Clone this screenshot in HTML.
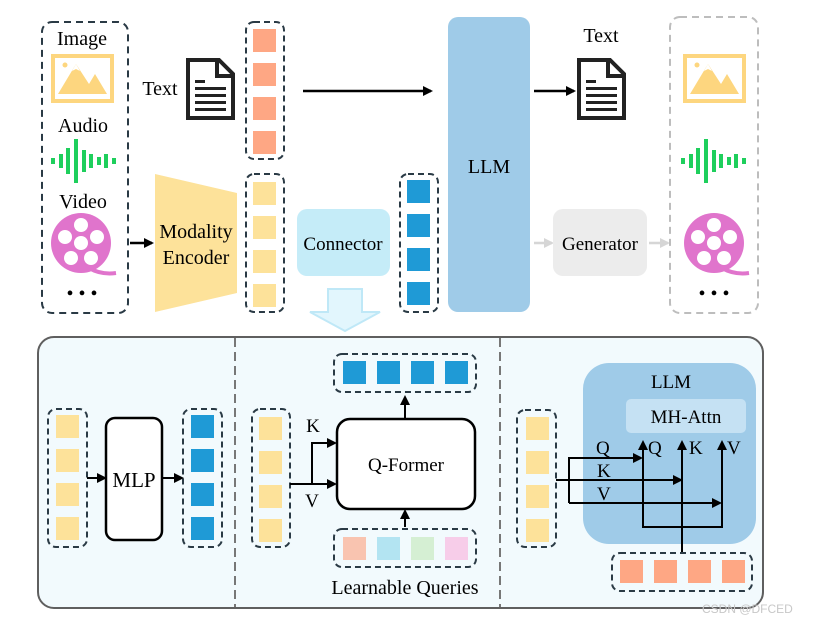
<!DOCTYPE html>
<html><head><meta charset="utf-8"><style>
html,body{margin:0;padding:0;background:#fff}
svg{display:block;font-family:"Liberation Serif",serif}
</style></head><body>
<svg width="814" height="625" viewBox="0 0 814 625" xmlns="http://www.w3.org/2000/svg">
<defs>
<marker id="ah" markerWidth="10" markerHeight="10" refX="8" refY="5" orient="auto" markerUnits="userSpaceOnUse"><path d="M0,0 L10,5 L0,10 z" fill="#000"/></marker>
<marker id="ahg" markerWidth="10" markerHeight="10" refX="8" refY="5" orient="auto" markerUnits="userSpaceOnUse"><path d="M0,0 L10,5 L0,10 z" fill="#d6d6d6"/></marker>
<g id="img">
<rect x="2" y="2" width="59" height="45" fill="#fff" stroke="#fdd67f" stroke-width="4"/>
<polygon points="7,40 25,10 38,30 44,20 56,40" fill="#fdd67f"/>
<polygon points="21,17 25,10 29,17 25,15" fill="#fff"/>
<circle cx="14" cy="11" r="2.5" fill="#fdd67f"/>
</g>
<g id="wave" fill="#1ecf5c">
<rect x="0" y="19" width="4" height="6"/><rect x="8" y="15" width="4" height="14"/><rect x="15" y="9" width="4" height="26"/><rect x="23" y="0" width="4" height="44"/><rect x="31" y="11" width="4" height="22"/><rect x="38" y="15" width="4" height="14"/><rect x="46" y="18" width="4" height="8"/><rect x="53" y="15" width="4" height="14"/><rect x="61" y="19" width="4" height="6"/>
</g>
<g id="reel">
<circle cx="30" cy="30" r="30" fill="#e074cc"/>
<circle cx="30" cy="12" r="7" fill="#fff"/><circle cx="14" cy="24" r="7" fill="#fff"/><circle cx="46" cy="24" r="7" fill="#fff"/><circle cx="30" cy="30" r="7" fill="#fff"/><circle cx="20" cy="45" r="7" fill="#fff"/><circle cx="40" cy="45" r="7" fill="#fff"/>
<path d="M38,55 Q50,62 65,60" stroke="#e074cc" stroke-width="4" fill="none"/>
</g>
<g id="doc">
<path d="M2,2 L33,2 L47,16 L47,60 L2,60 Z" fill="#fff" stroke="#222" stroke-width="4"/>
<path d="M31,2 L31,18 L47,18" fill="none" stroke="#222" stroke-width="4"/>
<rect x="9" y="22" width="10" height="3" fill="#222"/>
<rect x="9" y="29" width="31" height="3" fill="#222"/><rect x="9" y="36" width="31" height="3" fill="#222"/><rect x="9" y="43" width="31" height="3" fill="#222"/><rect x="9" y="50" width="31" height="3" fill="#222"/>
</g>
</defs>

<rect x="42" y="22" width="86" height="291" rx="10" fill="none" stroke="#2a3a45" stroke-width="2" stroke-dasharray="7,5"/>
<text x="82" y="45" font-size="20" text-anchor="middle">Image</text>
<use href="#img" x="51" y="54"/>
<text x="83" y="132" font-size="20" text-anchor="middle">Audio</text>
<use href="#wave" x="51" y="139"/>
<text x="83" y="208" font-size="20" text-anchor="middle">Video</text>
<use href="#reel" x="51" y="213"/>
<text x="82" y="300" font-size="20" text-anchor="middle">• • •</text>
<line x1="130" y1="243" x2="152" y2="243" stroke="#000" stroke-width="2.5" marker-end="url(#ah)"/>

<polygon points="155,174 237,193 237,293 155,312" fill="#fde29a"/>
<text x="196" y="238" font-size="20" text-anchor="middle">Modality</text>
<text x="196" y="264" font-size="20" text-anchor="middle">Encoder</text>

<text x="160" y="95" font-size="20" text-anchor="middle">Text</text>
<use href="#doc" x="186" y="58"/>

<rect x="246" y="22" width="38" height="137" rx="8" fill="none" stroke="#2a3a45" stroke-width="2" stroke-dasharray="6,4"/>
<g fill="#fea784"><rect x="253" y="29" width="23" height="23"/><rect x="253" y="63" width="23" height="23"/><rect x="253" y="97" width="23" height="23"/><rect x="253" y="131" width="23" height="23"/></g>
<rect x="246" y="174" width="38" height="138" rx="8" fill="none" stroke="#2a3a45" stroke-width="2" stroke-dasharray="6,4"/>
<g fill="#fde29a"><rect x="253" y="182" width="23" height="23"/><rect x="253" y="216" width="23" height="23"/><rect x="253" y="250" width="23" height="23"/><rect x="253" y="284" width="23" height="23"/></g>

<rect x="297" y="209" width="93" height="67" rx="10" fill="#c5ecf8"/>
<text x="343" y="250" font-size="19" text-anchor="middle">Connector</text>
<polygon points="328,289 362,289 362,312 380,312 345,331 310,312 328,312" fill="#e2f6fd" stroke="#bfe8f7" stroke-width="2"/>

<rect x="400" y="174" width="38" height="138" rx="8" fill="none" stroke="#2a3a45" stroke-width="2" stroke-dasharray="6,4"/>
<g fill="#1f9ad6"><rect x="407" y="180" width="23" height="23"/><rect x="407" y="214" width="23" height="23"/><rect x="407" y="248" width="23" height="23"/><rect x="407" y="282" width="23" height="23"/></g>

<line x1="303" y1="91" x2="431" y2="91" stroke="#000" stroke-width="2.5" marker-end="url(#ah)"/>
<rect x="448" y="17" width="82" height="295" rx="10" fill="#9fcbe8"/>
<text x="489" y="173" font-size="20" text-anchor="middle">LLM</text>

<line x1="534" y1="91" x2="574" y2="91" stroke="#000" stroke-width="2.5" marker-end="url(#ah)"/>
<text x="601" y="42" font-size="20" text-anchor="middle">Text</text>
<use href="#doc" x="577" y="58"/>

<line x1="534" y1="243" x2="552" y2="243" stroke="#d6d6d6" stroke-width="2.5" marker-end="url(#ahg)"/>
<rect x="553" y="209" width="94" height="67" rx="10" fill="#ececec"/>
<text x="600" y="250" font-size="19" text-anchor="middle">Generator</text>
<line x1="649" y1="243" x2="668" y2="243" stroke="#d6d6d6" stroke-width="2.5" marker-end="url(#ahg)"/>

<rect x="670" y="17" width="88" height="296" rx="10" fill="none" stroke="#bdbdbd" stroke-width="2" stroke-dasharray="7,5"/>
<use href="#img" x="683" y="54"/>
<use href="#wave" x="681" y="139"/>
<use href="#reel" x="684" y="213"/>
<text x="714" y="300" font-size="20" text-anchor="middle">• • •</text>

<rect x="38" y="337" width="725" height="271" rx="16" fill="#f2fafd" stroke="#5f5f5f" stroke-width="2"/>
<line x1="235" y1="338" x2="235" y2="607" stroke="#777" stroke-width="2" stroke-dasharray="9,5"/>
<line x1="500" y1="338" x2="500" y2="607" stroke="#777" stroke-width="2" stroke-dasharray="9,5"/>

<rect x="48" y="409" width="39" height="138" rx="8" fill="none" stroke="#2a3a45" stroke-width="2" stroke-dasharray="6,4"/>
<g fill="#fde29a"><rect x="56" y="415" width="23" height="23"/><rect x="56" y="449" width="23" height="23"/><rect x="56" y="483" width="23" height="23"/><rect x="56" y="517" width="23" height="23"/></g>
<line x1="87" y1="478" x2="105" y2="478" stroke="#000" stroke-width="2" marker-end="url(#ah)"/>
<rect x="106" y="418" width="56" height="122" rx="9" fill="#fff" stroke="#000" stroke-width="2.5"/>
<text x="134" y="487" font-size="21" text-anchor="middle">MLP</text>
<line x1="162" y1="478" x2="182" y2="478" stroke="#000" stroke-width="2" marker-end="url(#ah)"/>
<rect x="183" y="409" width="39" height="138" rx="8" fill="none" stroke="#2a3a45" stroke-width="2" stroke-dasharray="6,4"/>
<g fill="#1f9ad6"><rect x="191" y="415" width="23" height="23"/><rect x="191" y="449" width="23" height="23"/><rect x="191" y="483" width="23" height="23"/><rect x="191" y="517" width="23" height="23"/></g>

<rect x="252" y="409" width="38" height="138" rx="8" fill="none" stroke="#2a3a45" stroke-width="2" stroke-dasharray="6,4"/>
<g fill="#fde29a"><rect x="259" y="417" width="23" height="23"/><rect x="259" y="451" width="23" height="23"/><rect x="259" y="485" width="23" height="23"/><rect x="259" y="519" width="23" height="23"/></g>
<polyline points="290,484 335,484" fill="none" stroke="#000" stroke-width="2" marker-end="url(#ah)"/>
<polyline points="312,484 312,443 335,443" fill="none" stroke="#000" stroke-width="2" marker-end="url(#ah)"/>
<text x="313" y="432" font-size="19" text-anchor="middle">K</text>
<text x="312" y="507" font-size="19" text-anchor="middle">V</text>
<rect x="337" y="419" width="138" height="90" rx="13" fill="#fff" stroke="#000" stroke-width="2.5"/>
<text x="406" y="471" font-size="19" text-anchor="middle">Q-Former</text>
<rect x="334" y="354" width="142" height="38" rx="8" fill="none" stroke="#2a3a45" stroke-width="2" stroke-dasharray="6,4"/>
<g fill="#1f9ad6"><rect x="343" y="361" width="23" height="23"/><rect x="377" y="361" width="23" height="23"/><rect x="411" y="361" width="23" height="23"/><rect x="445" y="361" width="23" height="23"/></g>
<line x1="405" y1="418" x2="405" y2="397" stroke="#000" stroke-width="2" marker-end="url(#ah)"/>
<line x1="405" y1="527" x2="405" y2="511" stroke="#000" stroke-width="2" marker-end="url(#ah)"/>
<rect x="334" y="529" width="142" height="38" rx="8" fill="none" stroke="#2a3a45" stroke-width="2" stroke-dasharray="6,4"/>
<rect x="343" y="537" width="23" height="23" fill="#f9c4b0"/><rect x="377" y="537" width="23" height="23" fill="#b3e4f2"/><rect x="411" y="537" width="23" height="23" fill="#d5efd3"/><rect x="445" y="537" width="23" height="23" fill="#f7cde9"/>
<text x="405" y="594" font-size="20" text-anchor="middle">Learnable Queries</text>

<rect x="583" y="363" width="173" height="181" rx="26" fill="#9fcbe8"/>
<text x="671" y="388" font-size="19" text-anchor="middle">LLM</text>
<rect x="626" y="399" width="120" height="34" rx="5" fill="#c5e1f3"/>
<text x="686" y="423" font-size="19" text-anchor="middle">MH-Attn</text>
<rect x="517" y="410" width="39" height="137" rx="8" fill="none" stroke="#2a3a45" stroke-width="2" stroke-dasharray="6,4"/>
<g fill="#fde29a"><rect x="526" y="417" width="23" height="23"/><rect x="526" y="451" width="23" height="23"/><rect x="526" y="485" width="23" height="23"/><rect x="526" y="519" width="23" height="23"/></g>
<polyline points="556,480 681,480" fill="none" stroke="#000" stroke-width="2" marker-end="url(#ah)"/>
<polyline points="569,503 569,458 641,458" fill="none" stroke="#000" stroke-width="2" marker-end="url(#ah)"/>
<polyline points="569,503 720,503" fill="none" stroke="#000" stroke-width="2" marker-end="url(#ah)"/>
<polyline points="722,503 722,527 643,527 643,442" fill="none" stroke="#000" stroke-width="2" marker-end="url(#ah)"/>
<line x1="722" y1="527" x2="722" y2="442" stroke="#000" stroke-width="2" marker-end="url(#ah)"/>
<line x1="682" y1="552" x2="682" y2="442" stroke="#000" stroke-width="2" marker-end="url(#ah)"/>
<g font-size="19"><text x="596" y="454">Q</text><text x="597" y="477">K</text><text x="597" y="500">V</text>
<text x="648" y="454">Q</text><text x="689" y="454">K</text><text x="727" y="454">V</text></g>
<rect x="612" y="553" width="140" height="38" rx="8" fill="none" stroke="#2a3a45" stroke-width="2" stroke-dasharray="6,4"/>
<g fill="#fea784"><rect x="620" y="560" width="23" height="23"/><rect x="654" y="560" width="23" height="23"/><rect x="688" y="560" width="23" height="23"/><rect x="722" y="560" width="23" height="23"/></g>
<text x="702" y="613" font-size="12" fill="#c8c8c8" font-family="Liberation Sans,sans-serif">CSDN @DFCED</text>
</svg>
</body></html>
